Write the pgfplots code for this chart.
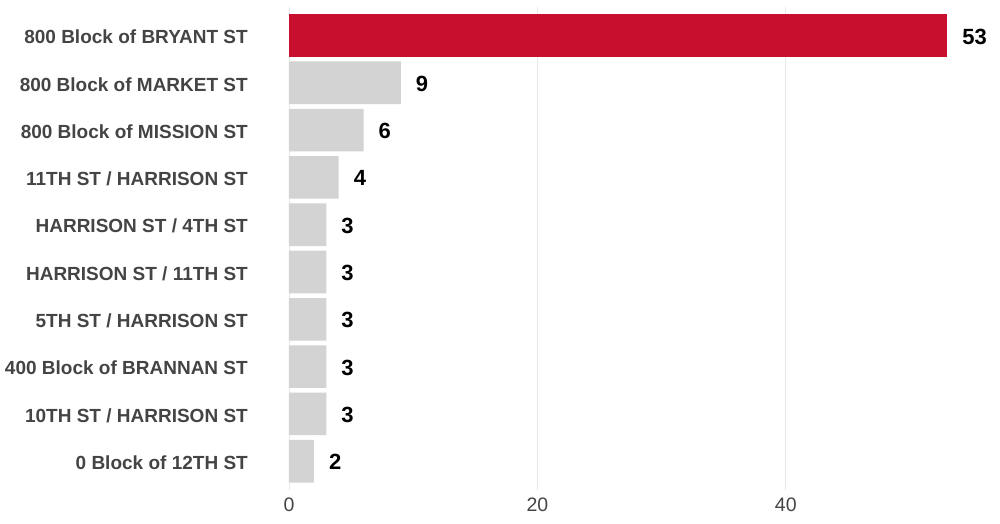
\documentclass[border=0pt]{standalone}
\usepackage{pgfplots}
\pgfplotsset{compat=1.18}
\usepackage{fontspec}
\setmainfont{Liberation Sans}
\definecolor{redbar}{HTML}{C8102E}
\definecolor{graybar}{HTML}{D3D3D3}
\definecolor{labelgray}{HTML}{444444}
\definecolor{gridgray}{HTML}{E8E8E8}
\begin{document}
\begin{tikzpicture}
\useasboundingbox (-289pt,-33.6pt) rectangle (711pt,489.6pt);
\begin{axis}[
  at={(0pt,0pt)}, anchor=south west,
  scale only axis, width=709.65pt, height=482.5pt,
  xmin=0, xmax=57.14, ymin=-0.6, ymax=9.6,
  xbar, bar width=42.6pt,
  axis line style={draw=none},
  xtick={0,20,40},
  xmajorgrids, grid style={gridgray, line width=0.8pt},
  ytick={0,...,9},
  yticklabels={0 Block of 12TH ST, 10TH ST / HARRISON ST, 400 Block of BRANNAN ST, 5TH ST / HARRISON ST, HARRISON ST / 11TH ST, HARRISON ST / 4TH ST, 11TH ST / HARRISON ST, 800 Block of MISSION ST, 800 Block of MARKET ST, 800 Block of BRYANT ST},
  major tick length=0pt,
  yticklabel style={font=\fontsize{19}{19}\selectfont\bfseries, text=labelgray, anchor=east, inner sep=0pt, xshift=-41pt, yshift=-1.5pt},
  xticklabel style={font=\fontsize{19.5}{19.5}\selectfont, text=labelgray, anchor=north, inner sep=0pt, yshift=-7.6pt},
  /pgf/number format/assume math mode=true,
  nodes near coords,
  every node near coord/.append style={font=\fontsize{22}{22}\selectfont\bfseries, text=black, anchor=west, inner sep=0pt, xshift=15pt, yshift=-1pt},
  clip=false,
]
\addplot[draw=none, fill=graybar, bar shift=0pt] coordinates {
  (2,0) (3,1) (3,2) (3,3) (3,4) (3,5) (4,6) (6,7) (9,8)
};
\addplot[draw=none, fill=redbar, bar shift=0pt] coordinates {
  (53,9)
};
\end{axis}
\end{tikzpicture}
\end{document}
